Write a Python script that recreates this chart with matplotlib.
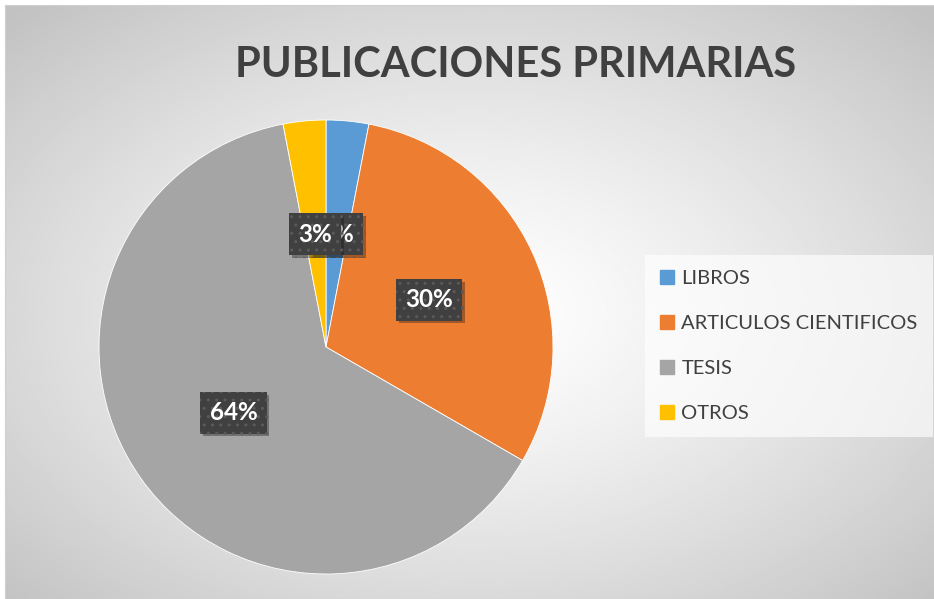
import numpy as np
import matplotlib.pyplot as plt
from matplotlib.lines import Line2D
import matplotlib.patheffects as pe

categorias = ['LIBROS', 'ARTICULOS CIENTIFICOS', 'TESIS', 'OTROS']
cantidades = [1, 10, 21, 1]
colores = ['#5B9BD5', '#ED7D31', '#A5A5A5', '#FFC000']
titulo = 'PUBLICACIONES PRIMARIAS'

W, H = 934, 599
fig = plt.figure(figsize=(W / 100, H / 100), dpi=100)
fig.patch.set_facecolor('white')

# fondo con degradado radial
bg = fig.add_axes([5 / W, 0, (W - 5) / W, (H - 5) / H])
yy, xx = np.mgrid[0:1:300j, 0:1:470j]
r = np.sqrt(((xx - 0.5) / 0.5) ** 2 + ((yy - 0.52) / 0.5) ** 2) / np.sqrt(2)
grad = 1.0 - 0.24 * np.clip(r, 0, 1) ** 1.3
bg.imshow(grad, cmap='gray', vmin=0, vmax=1, aspect='auto',
          extent=(0, 1, 0, 1), interpolation='bilinear')
bg.set_xlim(0, 1)
bg.set_ylim(0, 1)
bg.set_xticks([])
bg.set_yticks([])
for s in bg.spines.values():
    s.set_color('#d0d0d0')
    s.set_linewidth(0.8)

# pastel
cx, cy, rad = 326, 347, 227
ax = fig.add_axes([(cx - rad) / W, (H - cy - rad) / H, 2 * rad / W, 2 * rad / H])
wedges, textos, autotextos = ax.pie(
    cantidades, colors=colores, startangle=90, counterclock=False,
    autopct=lambda p: f'{p:.0f}%', pctdistance=0.5,
    wedgeprops=dict(edgecolor='white', linewidth=0.6),
    textprops=dict(color='white', fontsize=17.5, fontweight='bold', family='Lato'))
ax.set_xlim(-1, 1)
ax.set_ylim(-1, 1)
ax.set_aspect('equal')
ax.axis('off')

for t in autotextos:
    t.set_bbox(dict(boxstyle='square,pad=0.38', facecolor='#404040',
                    edgecolor='#5a5a5a', linewidth=0, hatch='..'))
    t.get_bbox_patch().set_path_effects(
        [pe.SimplePatchShadow(offset=(2, -2), alpha=0.35), pe.Normal()])

fig.text(516 / W, 1 - 65 / H, titulo, ha='center', va='center',
         fontsize=30, fontweight='bold', color='#404040', family='Lato')

handles = [Line2D([], [], marker='s', ls='', markersize=9.5, color=c) for c in colores]
leg = fig.legend(handles, categorias, loc='upper left',
                 bbox_to_anchor=(645 / W, 1 - 255 / H),
                 prop=dict(family='Lato', size=14.5), labelcolor='#404040',
                 frameon=True, fancybox=False, framealpha=0.65,
                 facecolor='white', edgecolor='none',
                 handlelength=0.7, handletextpad=0.35, labelspacing=1.38,
                 borderpad=0.75, borderaxespad=0)

fig.savefig('out.png', dpi=100)
